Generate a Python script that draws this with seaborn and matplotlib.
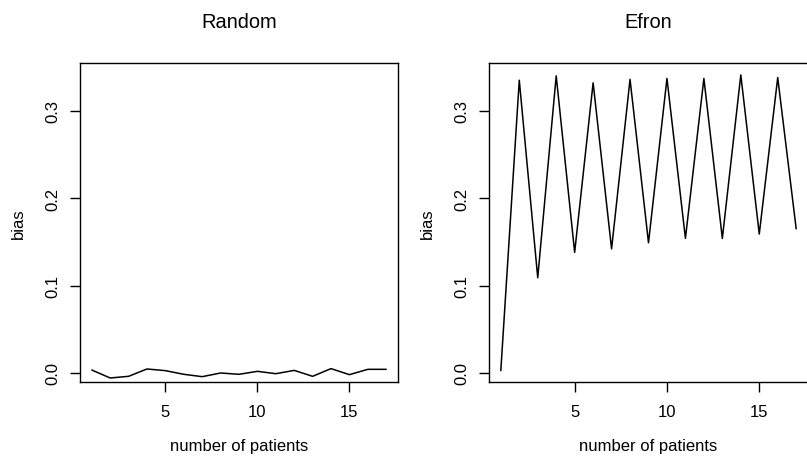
import matplotlib
matplotlib.use("Agg")
import matplotlib.pyplot as plt
import seaborn as sns
import pandas as pd

# Data
patients = list(range(1, 18))
bias_random = [0.0034, -0.0057, -0.0038, 0.0046, 0.0027, -0.0015, -0.0042, 0.0000,
               -0.0015, 0.0019, -0.0008, 0.0030, -0.0038, 0.0050, -0.0019, 0.0042, 0.0042]
bias_efron = [0.0027, 0.335, 0.109, 0.340, 0.138, 0.332, 0.142, 0.336, 0.149,
              0.337, 0.154, 0.337, 0.154, 0.341, 0.159, 0.338, 0.165]
titles = ["Random", "Efron"]
xticks = [5, 10, 15]
yticks = [0.0, 0.1, 0.2, 0.3]
ytick_labels = ["0.0", "0.1", "0.2", "0.3"]

sns.set_style("white")
plt.rcParams["font.family"] = ["Liberation Sans", "DejaVu Sans"]
plt.rcParams["font.size"] = 12
plt.rcParams["text.color"] = "black"
plt.rcParams["axes.labelcolor"] = "black"
plt.rcParams["xtick.color"] = "black"
plt.rcParams["ytick.color"] = "black"

W, H = 807, 464
fig = plt.figure(figsize=(W / 100, H / 100), dpi=100)
ax1 = fig.add_axes([80 / W, (H - 383) / H, 318 / W, 319 / H])
ax2 = fig.add_axes([489 / W, (H - 383) / H, 319 / W, 319 / H])

ymin, ymax = -0.0103, 0.3547
for ax, vals, title in zip([ax1, ax2], [bias_random, bias_efron], titles):
    df = pd.DataFrame({"n": patients, "bias": vals})
    sns.lineplot(data=df, x="n", y="bias", ax=ax, color="black", linewidth=1.1)
    ax.set_xlim(0.36, 17.64)
    ax.set_ylim(ymin, ymax)
    ax.set_xticks(xticks)
    ax.set_xticklabels([str(t) for t in xticks])
    ax.set_yticks(yticks)
    ax.set_yticklabels(ytick_labels, rotation=90, va="center")
    ax.tick_params(axis="both", direction="out", length=7, width=1, color="black",
                   labelcolor="black", labelsize=12, bottom=True, left=True)
    ax.tick_params(axis="x", pad=8.6)
    ax.tick_params(axis="y", pad=6.8)
    for s in ax.spines.values():
        s.set_visible(True)
        s.set_color("black")
        s.set_linewidth(1)
    ax.set_xlabel("number of patients", fontsize=12, labelpad=14, color="black")
    ax.set_ylabel("bias", fontsize=12, labelpad=14, color="black")
    ax.set_title(title, fontsize=14.4, pad=26, fontweight="normal", color="black")

fig.savefig("out.png", dpi=100)
